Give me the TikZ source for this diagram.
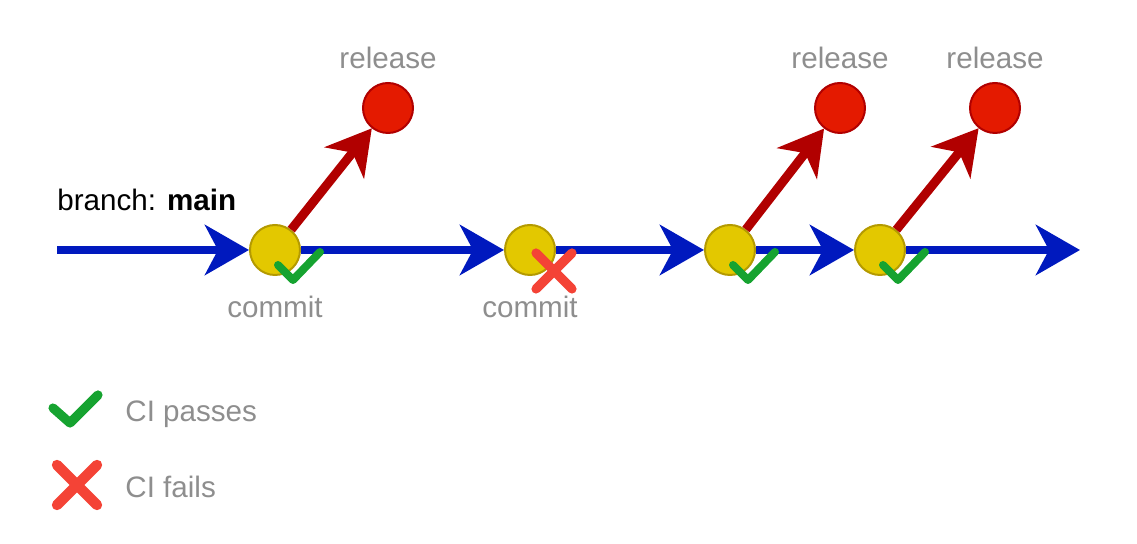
\documentclass[tikz,border=0pt]{standalone}
\usepackage{fontspec}
\setmainfont{Liberation Sans}
\usetikzlibrary{arrows.meta}
\definecolor{branchblue}{HTML}{0019BE}
\definecolor{releasered}{HTML}{B10000}
\definecolor{releasefill}{HTML}{E41A00}
\definecolor{commitfill}{HTML}{E3C800}
\definecolor{commitedge}{HTML}{B49A00}
\definecolor{passgreen}{HTML}{16A330}
\definecolor{failred}{HTML}{F44336}
\definecolor{labelgray}{HTML}{8E8E8E}
\tikzset{
	commitnode/.style = {
		circle,
		draw=commitedge,
		fill=commitfill,
		line width=1pt,
		minimum size=25pt,
		inner sep=0pt
	},
	releasenode/.style = {
		commitnode,
		draw=releasered,
		fill=releasefill
	},
	labeltext/.style = {
		anchor=base,
		inner sep=0pt,
		text=labelgray,
		font=\fontsize{14.8}{17}\selectfont
	},
	branch_arrow/.style = {
		-{Stealth[length=22pt,width=25pt,inset=6.5pt]},
		draw=branchblue,
		line width=4pt
	},
	release_arrow/.style = {
		branch_arrow,
		draw=releasered,
		line width=4.5pt
	},
	passmark/.style = {
		draw=passgreen,
		line width=4pt,
		line cap=round,
		line join=round
	},
	failmark/.style = {
		draw=failred,
		line width=4.6pt,
		line cap=round
	},
}

\begin{document}
\begin{tikzpicture}[x=0.5pt, y=-0.5pt]
\useasboundingbox (0,0) rectangle (1137,544);
% commits on main
\node [commitnode] (c1) at (275,250) {};
\node [commitnode] (c2) at (530,250) {};
\node [commitnode] (c3) at (730,250) {};
\node [commitnode] (c4) at (880,250) {};
% releases
\node [releasenode] (r1) at (388,108) {};
\node [releasenode] (r3) at (840,108) {};
\node [releasenode] (r4) at (995,108) {};
\coordinate (start) at (57,250);
\coordinate (end) at (1080,250);
% branch
\draw [branch_arrow] (start) -- (c1);
\draw [branch_arrow] (c1) -- (c2);
\draw [branch_arrow] (c2) -- (c3);
\draw [branch_arrow] (c3) -- (c4);
\draw [branch_arrow] (c4) -- (end);
\draw [release_arrow] (c1) -- (r1);
\draw [release_arrow] (c3) -- (r3);
\draw [release_arrow] (c4) -- (r4);
% CI results
\draw [passmark] ([shift={(3,15)}]c1.center) -- ++(15,15) -- ++(27,-28);
\draw [passmark] ([shift={(3,15)}]c3.center) -- ++(15,15) -- ++(27,-28);
\draw [passmark] ([shift={(3,15)}]c4.center) -- ++(15,15) -- ++(27,-28);
\coordinate (x2) at ([shift={(24,21)}]c2.center);
\draw [failmark] (x2) +(-18,-18) -- +(18,18) (x2) +(-18,18) -- +(18,-18);
% labels
\node [labeltext] (lr1) at (388,69) {release};
\node [labeltext] (lr3) at (840,69) {release};
\node [labeltext] (lr4) at (995,69) {release};
\node [labeltext] (lc1) at (275,318) {commit};
\node [labeltext] (lc2) at (530,318) {commit};
\node [labeltext, anchor=base west, text=black] (lb) at (57,211) {branch: \textbf{main}};
% legend
\draw [passmark, line width=4.6pt] (53,408) -- (70,423) -- (98,395);
\coordinate (xl) at (77,485);
\draw [failmark, line width=5.2pt] (xl) +(-20,-20) -- +(20,20) (xl) +(-20,20) -- +(20,-20);
\node [labeltext, anchor=base west] (lpass) at (125,422) {CI passes};
\node [labeltext, anchor=base west] (lfail) at (125,498) {CI fails};
\end{tikzpicture}
\end{document}
